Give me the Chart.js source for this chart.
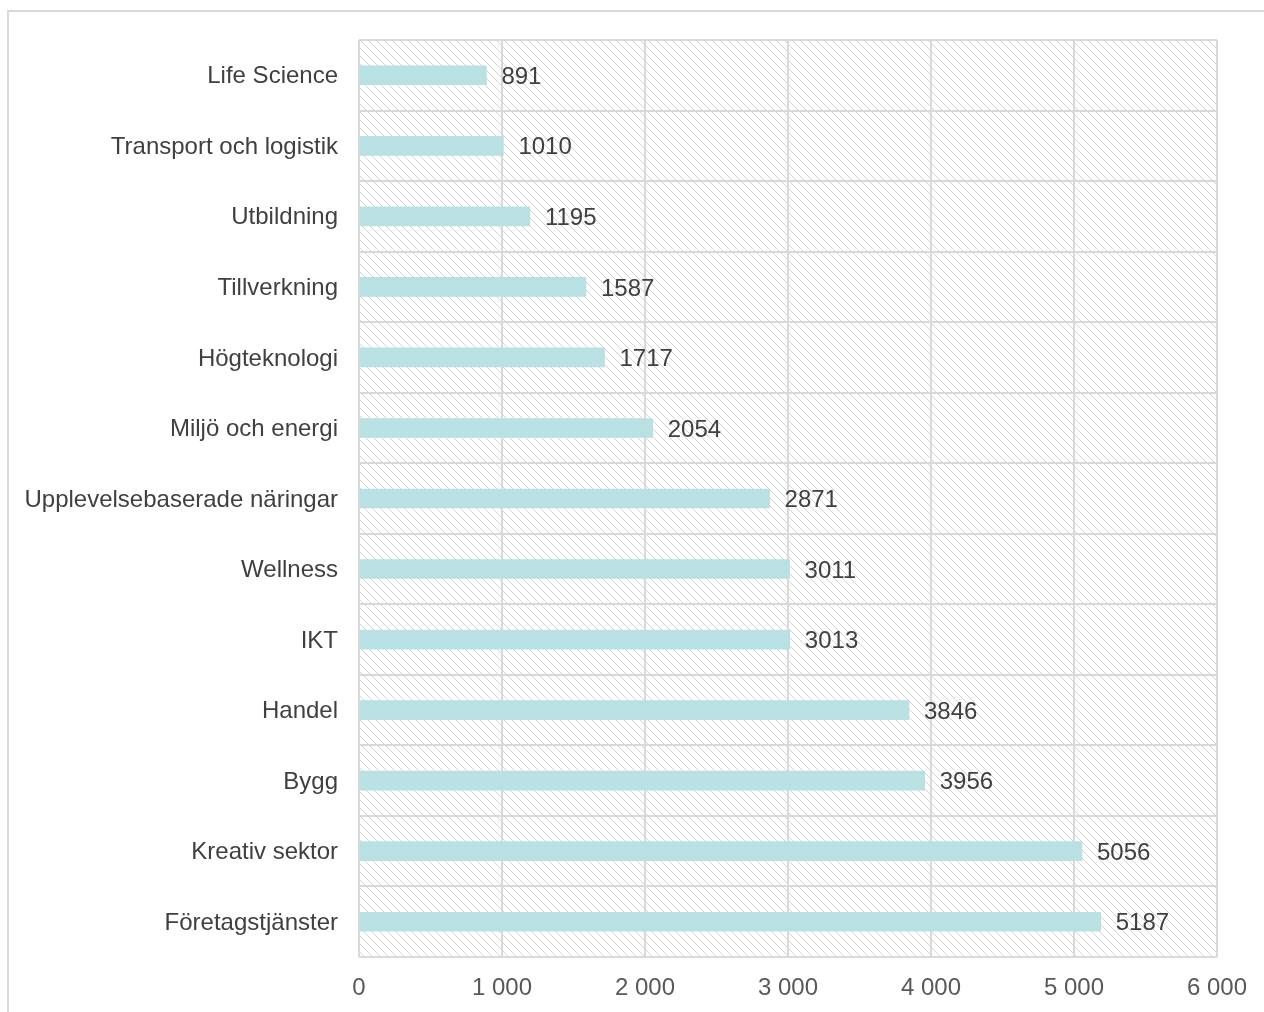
<!DOCTYPE html>
<html>
<head>
<meta charset="utf-8">
<script src="https://cdn.jsdelivr.net/npm/chart.js@4"></script>
<style>
  html, body { margin: 0; padding: 0; background: #fff; }
  #wrap { position: relative; width: 1264px; height: 1012px; overflow: hidden; }
  #frame { position: absolute; left: 7px; top: 10px; width: 1300px; height: 1100px;
           border-left: 2px solid #d9d9d9; border-top: 2px solid #d9d9d9; box-sizing: border-box; }
  canvas { position: absolute; left: 0; top: 0; }
</style>
</head>
<body>
<div id="wrap">
  <div id="frame"></div>
  <canvas id="chart" width="1264" height="1012"></canvas>
</div>
<script>
const categories = [
    'Life Science',
    'Transport och logistik',
    'Utbildning',
    'Tillverkning',
    'Högteknologi',
    'Miljö och energi',
    'Upplevelsebaserade näringar',
    'Wellness',
    'IKT',
    'Handel',
    'Bygg',
    'Kreativ sektor',
    'Företagstjänster'
];
const values = [891, 1010, 1195, 1587, 1717, 2054, 2871, 3011, 3013, 3846, 3956, 5056, 5187];
const xTicks = [0, 1000, 2000, 3000, 4000, 5000, 6000];

const FONT = '"Liberation Sans", Arial, sans-serif';

function makeHatch(ctx) {
    const n = 8;
    const c = document.createElement('canvas');
    c.width = n; c.height = n;
    const g = c.getContext('2d');
    g.strokeStyle = '#d4d4d4';
    g.lineWidth = 1;
    // diagonal "\" lines
    g.beginPath();
    g.moveTo(0, 0); g.lineTo(n, n);
    g.moveTo(-n / 2, n / 2); g.lineTo(n / 2, n * 1.5);
    g.moveTo(n / 2, -n / 2); g.lineTo(n * 1.5, n / 2);
    g.stroke();
    return ctx.createPattern(c, 'repeat');
}

const hatchPlugin = {
    id: 'hatch',
    beforeDraw(chart) {
        const { ctx, chartArea: a } = chart;
        ctx.save();
        ctx.fillStyle = makeHatch(ctx);
        ctx.fillRect(a.left, a.top, a.right - a.left, a.bottom - a.top);
        ctx.restore();
    }
};

const labelPlugin = {
    id: 'barLabels',
    afterDatasetsDraw(chart) {
        const ctx = chart.ctx;
        const meta = chart.getDatasetMeta(0);
        ctx.save();
        ctx.font = '24px ' + FONT;
        ctx.fillStyle = '#404040';
        ctx.textAlign = 'left';
        ctx.textBaseline = 'middle';
        meta.data.forEach((bar, i) => {
            ctx.fillText(String(values[i]), bar.x + 15, bar.y + 2);
        });
        ctx.restore();
    }
};

new Chart(document.getElementById('chart'), {
    type: 'bar',
    data: {
        labels: categories,
        datasets: [{
            data: values,
            backgroundColor: '#b9e0e3',
            barThickness: 19
        }]
    },
    options: {
        indexAxis: 'y',
        responsive: false,
        animation: false,
        layout: { padding: { left: 10, top: 40, right: 46, bottom: 0 } },
        plugins: { legend: { display: false }, tooltip: { enabled: false } },
        scales: {
            x: {
                min: 0,
                max: 6000,
                afterBuildTicks: s => { s.ticks = xTicks.map(v => ({ value: v })); },
                afterFit: s => { s.height = 55; },
                grid: { color: '#d9d9d9', lineWidth: 2, drawTicks: false },
                border: { display: false },
                ticks: {
                    padding: 17,
                    color: '#595959',
                    font: { family: FONT, size: 24 },
                    maxRotation: 0,
                    callback: v => v === 0 ? '0' : String(v).replace(/\B(?=(\d{3})+(?!\d))/g, ' ')
                }
            },
            y: {
                afterFit: s => { s.width = 349; },
                grid: { color: '#d9d9d9', lineWidth: 2, drawTicks: false },
                border: { display: false },
                ticks: {
                    padding: 21,
                    labelOffset: 1.5,
                    color: '#404040',
                    font: { family: FONT, size: 24 }
                }
            }
        }
    },
    plugins: [hatchPlugin, labelPlugin]
});
</script>
</body>
</html>
